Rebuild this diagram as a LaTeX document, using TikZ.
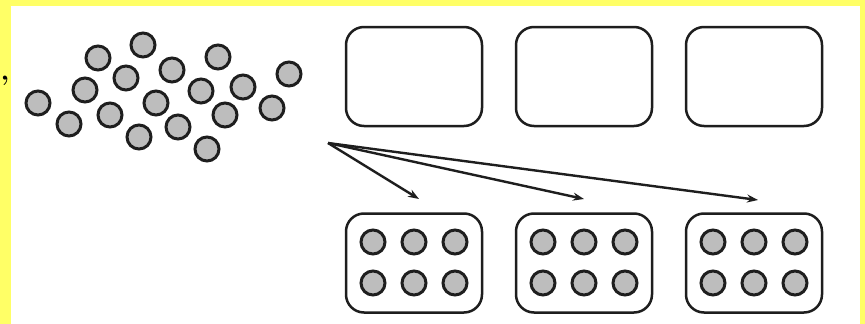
\documentclass[tikz,border=0pt]{standalone}
\usetikzlibrary{arrows.meta}
\definecolor{bgyellow}{HTML}{FFFF66}
\definecolor{dotfill}{HTML}{BDBDBD}
\definecolor{ink}{HTML}{1E1E1E}
\begin{document}
\begin{tikzpicture}[x=1pt,y=-1pt,
  counter/.style={circle,draw=ink,line width=3pt,fill=dotfill,minimum size=24pt,inner sep=0pt},
  tray/.style={draw=ink,line width=2.5pt,rounded corners=18pt,minimum width=136pt,minimum height=99pt,inner sep=0pt,fill=white},
  arr/.style={-{Stealth[length=11pt,width=8pt]},line width=2.4pt,draw=ink}]
\useasboundingbox (0,0) rectangle (865,324);
\fill[bgyellow] (0,0) rectangle (865,324);
\fill[white] (11,6) rectangle (860,324);
\node[font=\bfseries\fontsize{28}{28}\selectfont,inner sep=0pt,anchor=north west] (mark) at (0.5,76) {’};
% loose counters
\foreach \n/\x/\y in {c1/143/45,c2/98/58,c3/218/57,c4/172/70,c5/126/78,c6/289/74,
  c7/85/90,c8/201/91,c9/243/87,c10/38/103,c11/156/103,c12/110/115,c13/225/115,
  c14/272/108,c15/69/124,c16/178/127,c17/139/137,c18/207/149}
  \node[counter] (\n) at (\x,\y) {};
% empty trays
\node[tray] (t1) at (414,76.5) {};
\node[tray] (t2) at (584,76.5) {};
\node[tray] (t3) at (754,76.5) {};
% filled trays
\node[tray] (b1) at (414,263) {};
\node[tray] (b2) at (584,263) {};
\node[tray] (b3) at (754,263) {};
\foreach \b/\cx in {b1/414,b2/584,b3/754}{
  \foreach \dx in {-41,0,41}{
    \foreach \y in {242,283}{
      \node[counter] at (\cx+\dx,\y) {};
    }
  }
}
% arrows
\coordinate (src) at (328,143);
\coordinate (e1) at (419,199);
\coordinate (e2) at (584,199);
\coordinate (e3) at (758,200);
\draw[arr] (src) -- (e1);
\draw[arr] (src) -- (e2);
\draw[arr] (src) -- (e3);
\end{tikzpicture}
\end{document}
